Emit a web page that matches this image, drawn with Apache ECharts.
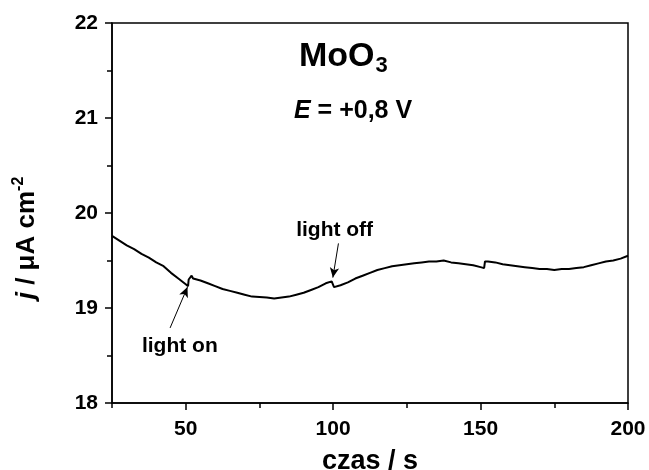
<!DOCTYPE html>
<html><head><meta charset="utf-8">
<script src="https://cdn.jsdelivr.net/npm/echarts@6/dist/echarts.min.js"></script>
<style>html,body{margin:0;padding:0;background:#fff}#c{width:649px;height:470px}</style>
</head><body><div id="c"></div>
<script>
const time = [25,27.5,30,32.5,35,37.5,40,42.5,45,47.5,50,50.8,51.0,51.5,52,52.5,55,57.5,60,62.5,65,67.5,70,72.5,75,77.5,80,82.5,85,87.5,90,92.5,95,97.5,99.5,100,100.3,102.5,105,107.5,110,112.5,115,117.5,120,122.5,125,127.5,130,132.5,135,137.5,140,142.5,145,147.5,150,151.2,151.5,152.5,155,157.5,160,162.5,165,167.5,170,172.5,175,177.5,180,182.5,185,187.5,190,192.5,195,197.5,200];
const current = [19.76,19.71,19.66,19.62,19.57,19.53,19.48,19.44,19.37,19.31,19.25,19.23,19.30,19.31,19.34,19.31,19.29,19.26,19.23,19.20,19.18,19.16,19.14,19.12,19.115,19.11,19.10,19.11,19.12,19.14,19.16,19.19,19.22,19.26,19.28,19.30,19.22,19.24,19.27,19.31,19.34,19.37,19.40,19.42,19.44,19.45,19.46,19.47,19.48,19.49,19.49,19.50,19.48,19.47,19.46,19.45,19.43,19.42,19.49,19.49,19.48,19.46,19.45,19.44,19.43,19.42,19.41,19.41,19.40,19.41,19.41,19.42,19.43,19.45,19.47,19.49,19.50,19.52,19.55];
const xTicks = [50,100,150,200];
const yTicks = [18,19,20,21,22];
const annotations = [
  {text:'light on', at:[48,18.60], from:[44.7,18.79], to:[50.6,19.22]},
  {text:'light off', at:[100.5,19.82], from:[101.8,19.68], to:[99.9,19.32]}
];
const FONT = '"Liberation Sans", Arial, sans-serif';
const axisCommonHidden = {axisLine:{show:false},axisLabel:{show:false},splitLine:{show:false}};
const chart = echarts.init(document.getElementById('c'));
chart.setOption({
  animation:false,
  backgroundColor:'#fff',
  grid:{left:112,right:21,top:23,bottom:67,show:true,borderColor:'#000',borderWidth:1.5,containLabel:false,outerBoundsMode:'none'},
  graphic:[
    {type:'text',left:299,top:40,style:{text:'{a|MoO}{s|3}',rich:{a:{fontSize:34,fontWeight:'bold',fontFamily:FONT,fill:'#000'},s:{fontSize:22,fontWeight:'bold',fontFamily:FONT,fill:'#000',padding:[18,0,0,1]}}}},
    {type:'text',left:294,top:99,style:{text:'{i|E}{n| = +0,8 V}',rich:{i:{fontSize:25,fontWeight:'bold',fontStyle:'italic',fontFamily:FONT,fill:'#000'},n:{fontSize:25,fontWeight:'bold',fontFamily:FONT,fill:'#000'}}}}
  ],
  xAxis:[{type:'value',min:25,max:200,interval:25,position:'bottom',
    name:'czas / s',nameLocation:'middle',nameGap:45,
    nameTextStyle:{fontSize:27,fontWeight:'bold',fontFamily:FONT,color:'#000'},
    axisLine:{show:true,lineStyle:{color:'#000',width:1.5}},
    axisTick:{show:true,inside:false,length:5,lineStyle:{color:'#000',width:1.5}},
    axisLabel:{fontSize:21,fontWeight:'bold',fontFamily:FONT,color:'#000',margin:16,
      formatter:v=>xTicks.indexOf(v)>=0?String(v):''},
    splitLine:{show:false}},
   Object.assign({type:'value',min:25,max:200,position:'bottom',
    axisTick:{show:true,inside:false,length:7,customValues:xTicks,lineStyle:{color:'#000',width:1.5}}},axisCommonHidden)],
  yAxis:[{type:'value',min:18,max:22,interval:0.5,position:'left',
    name:'{i|j}{n| / μA cm}{s|-2}',nameLocation:'middle',nameGap:70,
    nameTextStyle:{padding:[0,0,0,-50],rich:{
      i:{fontSize:26,fontWeight:'bold',fontStyle:'italic',fontFamily:FONT,color:'#000'},
      n:{fontSize:26,fontWeight:'bold',fontFamily:FONT,color:'#000'},
      s:{fontSize:16,fontWeight:'bold',fontFamily:FONT,color:'#000',padding:[0,0,15,0]}}},
    axisLine:{show:true,lineStyle:{color:'#000',width:1.5}},
    axisTick:{show:true,inside:false,length:5,lineStyle:{color:'#000',width:1.5}},
    axisLabel:{fontSize:21,fontWeight:'bold',fontFamily:FONT,color:'#000',margin:14,
      formatter:v=>yTicks.indexOf(v)>=0?String(v):''},
    splitLine:{show:false}},
   Object.assign({type:'value',min:18,max:22,interval:1,position:'left',
    axisTick:{show:true,inside:false,length:7,lineStyle:{color:'#000',width:1.5}}},axisCommonHidden)],
  series:[{
    type:'line',data:time.map((t,i)=>[t,current[i]]),showSymbol:false,symbol:'none',
    lineStyle:{color:'#000',width:2},
    markLine:{silent:true,symbol:['none','arrow'],symbolSize:[7,10],
      lineStyle:{color:'#000',width:1,type:'solid'},label:{show:false},
      data:annotations.map(a=>[{coord:a.from},{coord:a.to}])},
    markPoint:{symbol:'circle',symbolSize:0,
      label:{show:true,position:'inside',fontSize:21,fontWeight:'bold',fontFamily:FONT,color:'#000',formatter:p=>p.name},
      data:annotations.map(a=>({name:a.text,coord:a.at}))}
  }]
});
</script></body></html>
